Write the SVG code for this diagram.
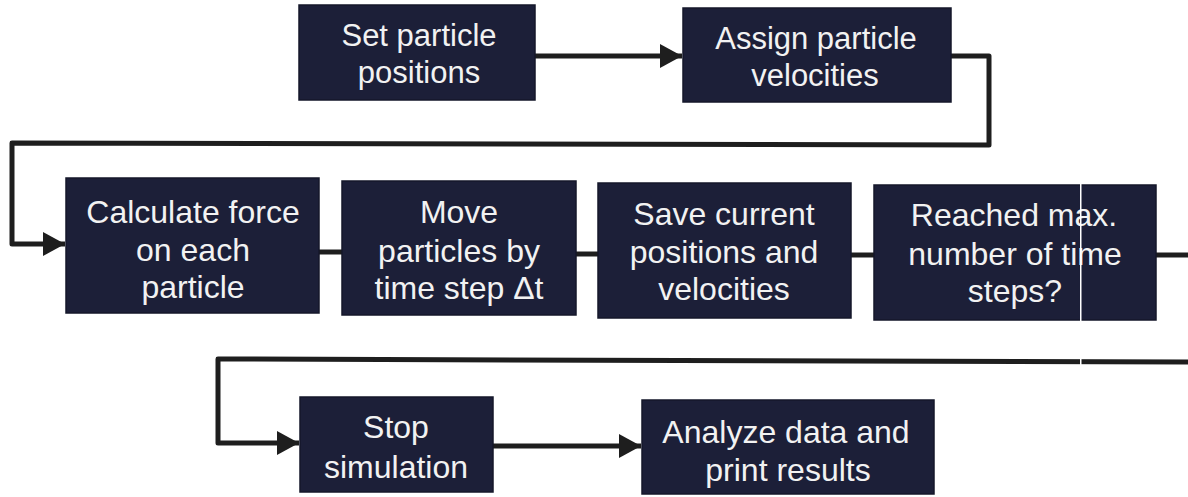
<svg xmlns="http://www.w3.org/2000/svg" width="1188" height="497" viewBox="0 0 1188 497">
  <defs>
    <marker id="arrow" viewBox="0 0 22 24" refX="22" refY="12" markerWidth="22" markerHeight="24" markerUnits="userSpaceOnUse" orient="auto">
      <path d="M0,0 L22,12 L0,24 Z" fill="#1e1e1e"/>
    </marker>
    <style>
      .box { fill: #1c1f38; stroke: #15172a; stroke-width: 1.5; }
      .lbl { fill: #f2f2f2; font-family: "Liberation Sans", Arial, sans-serif; text-anchor: middle; }
      .r1 { font-size: 31px; }
      .r2 { font-size: 32px; }
      .r3 { font-size: 32px; }
      .wire { fill: none; stroke: #1e1e1e; stroke-width: 5; stroke-linejoin: round; }
    </style>
  </defs>
  <rect width="1188" height="497" fill="#ffffff"/>

  <g id="connectors">
    <path class="wire" d="M535,56 L682,56" marker-end="url(#arrow)"/>
    <path class="wire" d="M951,56 L989,56 L989,145 L12,143 L12,244 L65,244" marker-end="url(#arrow)"/>
    <path class="wire" d="M319,252 L342,252"/>
    <path class="wire" d="M576,254 L598,254"/>
    <path class="wire" d="M851,255 L874,255"/>
    <path class="wire" d="M1156,255 L1188,255"/>
    <path class="wire" d="M1188,362 L218,359 L218,443 L299,443" marker-end="url(#arrow)"/>
    <path class="wire" d="M493,446 L641,446" marker-end="url(#arrow)"/>
  </g>

  <g id="set-positions">
    <rect class="box" x="299" y="5" width="236" height="95"/>
    <text class="lbl r1" x="419" y="46">Set particle</text>
    <text class="lbl r1" x="419" y="83">positions</text>
  </g>
  <g id="assign-velocities">
    <rect class="box" x="683" y="8" width="268" height="94"/>
    <text class="lbl r1" x="816" y="49">Assign particle</text>
    <text class="lbl r1" x="815" y="86">velocities</text>
  </g>
  <g id="calculate-force">
    <rect class="box" x="66" y="178" width="253" height="135"/>
    <text class="lbl r2" x="193" y="223">Calculate force</text>
    <text class="lbl r2" x="193" y="261">on each</text>
    <text class="lbl r2" x="193" y="298">particle</text>
  </g>
  <g id="move-particles">
    <rect class="box" x="342" y="181" width="234" height="134"/>
    <text class="lbl r2" x="459" y="223">Move</text>
    <text class="lbl r2" x="459" y="262">particles by</text>
    <text class="lbl r2" x="459" y="299">time step Δt</text>
  </g>
  <g id="save-state">
    <rect class="box" x="598" y="183" width="253" height="135"/>
    <text class="lbl r2" x="724" y="225">Save current</text>
    <text class="lbl r2" x="724" y="263">positions and</text>
    <text class="lbl r2" x="724" y="300">velocities</text>
  </g>
  <g id="check-steps">
    <rect class="box" x="874" y="185" width="282" height="135"/>
    <text class="lbl r2" x="1014" y="226">Reached max.</text>
    <text class="lbl r2" x="1015" y="265">number of time</text>
    <text class="lbl r2" x="1015" y="302">steps?</text>
  </g>
  <g id="stop-simulation">
    <rect class="box" x="300" y="397" width="193" height="95"/>
    <text class="lbl r3" x="396" y="438">Stop</text>
    <text class="lbl r3" x="396" y="478">simulation</text>
  </g>
  <g id="analyze-results">
    <rect class="box" x="642" y="400" width="292" height="94"/>
    <text class="lbl r3" x="786" y="443">Analyze data and</text>
    <text class="lbl r3" x="788" y="481">print results</text>
  </g>

  <!-- thin light seam crossing the last box and the return wire -->
  <rect x="1080" y="184" width="1.5" height="137" fill="#ffffff"/>
  <rect x="1080" y="354" width="1.5" height="14" fill="#ffffff"/>
</svg>
